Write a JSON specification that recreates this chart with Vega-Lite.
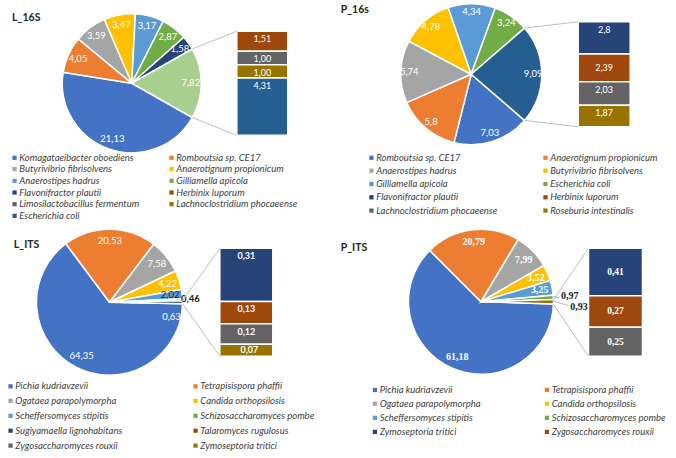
{
"$schema": "https://vega.github.io/schema/vega-lite/v6.json",
"background": "white",
"padding": {"left": 5.5, "top": 0.75, "right": 0, "bottom": 0},
"config": {"view": {"stroke": null}, "font": "Lato"},
"columns": 4,
"align": "each",
"bounds": "flush",
"spacing": {"row": 84.5, "column": 0},
"resolve": {"scale": {"color": "independent"}},
"concat": [
  {"width": 139, "height": 139,
   "title": {"text": "L_16S", "anchor": "start", "orient": "none", "dx": -24.4, "dy": 16.8, "baseline": "alphabetic", "font": "Lato", "fontSize": 10.5, "fontWeight": "bold", "color": "#262626"},
   "data": {"values": [
    {"sp": "Komagataeibacter oboediens", "v": 21.13, "t": "21,13", "k": 1},
    {"sp": "Romboutsia sp. CE17", "v": 4.05, "t": "4,05", "k": 2},
    {"sp": "Butyrivibrio fibrisolvens", "v": 3.59, "t": "3,59", "k": 3},
    {"sp": "Anaerotignum propionicum", "v": 3.47, "t": "3,47", "k": 4},
    {"sp": "Anaerostipes hadrus", "v": 3.17, "t": "3,17", "k": 5},
    {"sp": "Gilliamella apicola", "v": 2.87, "t": "2,87", "k": 6},
    {"sp": "Flavonifractor plautii", "v": 1.58, "t": "1,58", "k": 7},
    {"sp": "Other", "v": 7.82, "t": "7,82", "k": 8}
   ]},
   "encoding": {
    "theta": {"field": "v", "type": "quantitative", "stack": true, "scale": {"range": [2.08605, 8.36924]}},
    "order": {"field": "k", "type": "quantitative"},
    "color": {"field": "sp", "type": "nominal",
     "scale": {"domain": ["Komagataeibacter oboediens", "Romboutsia sp. CE17", "Butyrivibrio fibrisolvens", "Anaerotignum propionicum", "Anaerostipes hadrus", "Gilliamella apicola", "Flavonifractor plautii", "Herbinix luporum", "Limosilactobacillus fermentum", "Lachnoclostridium phocaeense", "Escherichia coli", "Other"],
      "range": ["#4472C4", "#ED7D31", "#A5A5A5", "#FFC000", "#5B9BD5", "#70AD47", "#264478", "#9E480E", "#636363", "#997300", "#255E91", "#A9CF8F"]},
     "legend": {"values": ["Komagataeibacter oboediens", "Butyrivibrio fibrisolvens", "Anaerostipes hadrus", "Flavonifractor plautii", "Limosilactobacillus fermentum", "Escherichia coli", "Romboutsia sp. CE17", "Anaerotignum propionicum", "Gilliamella apicola", "Herbinix luporum", "Lachnoclostridium phocaeense"],
      "orient": "none", "legendX": -26.7, "legendY": 148.9, "columns": 2, "columnPadding": 27, "rowPadding": 0.7, "symbolType": "square", "symbolSize": 18, "symbolStrokeWidth": 0, "labelFont": "Lato", "labelFontStyle": "italic", "labelFontSize": 9.5, "labelColor": "#404040", "labelOffset": 0, "title": null, "padding": 0, "labelLimit": 300}}
   },
   "layer": [
    {"mark": {"type": "arc", "radius": 69.5, "stroke": "white", "strokeWidth": 1.5, "xOffset": 25.8, "yOffset": 10}},
    {"mark": {"type": "text", "radius": 59, "font": "Lato", "fontSize": 9.5, "xOffset": 25.8, "yOffset": 10}, "encoding": {"text": {"field": "t"}, "color": {"value": "white"}, "detail": {"field": "sp"}}}
   ]
  },
  {"width": 225.6, "height": 141,
   "layer": [
    {"data": {"values": [
      {"sp": "Herbinix luporum", "v": 1.51, "t": "1,51", "k": 8},
      {"sp": "Limosilactobacillus fermentum", "v": 1.00, "t": "1,00", "k": 9},
      {"sp": "Lachnoclostridium phocaeense", "v": 1.00, "t": "1,00", "k": 10},
      {"sp": "Escherichia coli", "v": 4.31, "t": "4,31", "k": 11}
     ]},
     "transform": [{"stack": "v", "groupby": [], "sort": [{"field": "k", "order": "descending"}], "as": ["v0", "v1"]}],
     "layer": [
      {"mark": {"type": "rect", "stroke": "white", "strokeWidth": 1.5},
       "encoding": {
        "x": {"datum": 0, "type": "quantitative", "axis": null, "scale": {"domain": [-1.0647, 3.3588], "nice": false, "zero": false}},
        "x2": {"datum": 1},
        "y": {"field": "v0", "type": "quantitative", "axis": null, "scale": {"domain": [-0.7143, 9.8878], "nice": false, "zero": false}},
        "y2": {"field": "v1"},
        "color": {"field": "sp", "type": "nominal", "legend": null,
         "scale": {"domain": ["Herbinix luporum", "Limosilactobacillus fermentum", "Lachnoclostridium phocaeense", "Escherichia coli"], "range": ["#9E480E", "#636363", "#997300", "#255E91"]}}}},
      {"mark": {"type": "text", "baseline": "middle", "dy": 8, "font": "Lato", "fontSize": 9, "color": "white"},
       "encoding": {"x": {"datum": 0.5, "type": "quantitative", "axis": null}, "y": {"field": "v1", "type": "quantitative", "axis": null}, "text": {"field": "t"}}}
     ]
    },
    {"data": {"values": [{}]}, "mark": {"type": "rule", "color": "#BFBFBF", "strokeWidth": 1},
     "encoding": {"x": {"datum": -0.873, "type": "quantitative", "axis": null}, "x2": {"datum": 0}, "y": {"datum": 6.488, "type": "quantitative", "axis": null}, "y2": {"datum": 7.82}}},
    {"data": {"values": [{}]}, "mark": {"type": "rule", "color": "#BFBFBF", "strokeWidth": 1},
     "encoding": {"x": {"datum": -0.873, "type": "quantitative", "axis": null}, "x2": {"datum": 0}, "y": {"datum": 1.334, "type": "quantitative", "axis": null}, "y2": {"datum": 0}}}
   ]
  },
  {"width": 141, "height": 141,
   "title": {"text": "P_16s", "anchor": "start", "orient": "none", "dx": -67.8, "dy": 9.2, "baseline": "alphabetic", "font": "Lato", "fontSize": 10.5, "fontWeight": "bold", "color": "#262626"},
   "data": {"values": [
    {"sp": "Romboutsia sp. CE17", "v": 7.03, "t": "7,03", "k": 1},
    {"sp": "Anaerotignum propionicum", "v": 5.8, "t": "5,8", "k": 2},
    {"sp": "Anaerostipes hadrus", "v": 5.74, "t": "5,74", "k": 3},
    {"sp": "Butyrivibrio fibrisolvens", "v": 4.78, "t": "4,78", "k": 4},
    {"sp": "Gilliamella apicola", "v": 4.34, "t": "4,34", "k": 5},
    {"sp": "Escherichia coli", "v": 3.24, "t": "3,24", "k": 6},
    {"sp": "Other", "v": 9.09, "t": "9,09", "k": 7}
   ]},
   "encoding": {
    "theta": {"field": "v", "type": "quantitative", "stack": true, "scale": {"range": [2.28436, 8.56755]}},
    "order": {"field": "k", "type": "quantitative"},
    "color": {"field": "sp", "type": "nominal",
     "scale": {"domain": ["Romboutsia sp. CE17", "Anaerotignum propionicum", "Anaerostipes hadrus", "Butyrivibrio fibrisolvens", "Gilliamella apicola", "Escherichia coli", "Flavonifractor plautii", "Herbinix luporum", "Lachnoclostridium phocaeense", "Roseburia intestinalis", "Other"],
      "range": ["#4472C4", "#ED7D31", "#A5A5A5", "#FFC000", "#5B9BD5", "#70AD47", "#264478", "#9E480E", "#636363", "#997300", "#255E91"]},
     "legend": {"values": ["Romboutsia sp. CE17", "Anaerostipes hadrus", "Gilliamella apicola", "Flavonifractor plautii", "Lachnoclostridium phocaeense", "Anaerotignum propionicum", "Butyrivibrio fibrisolvens", "Escherichia coli", "Herbinix luporum", "Roseburia intestinalis"],
      "orient": "none", "legendX": -41.8, "legendY": 148.9, "columns": 2, "columnPadding": 43, "rowPadding": 2.3, "symbolType": "square", "symbolSize": 18, "symbolStrokeWidth": 0, "labelFont": "Lato", "labelFontStyle": "italic", "labelFontSize": 9.5, "labelColor": "#404040", "labelOffset": 0, "title": null, "padding": 0, "labelLimit": 300}}
   },
   "layer": [
    {"mark": {"type": "arc", "radius": 70.5, "stroke": "white", "strokeWidth": 1.5, "xOffset": -7.8}},
    {"mark": {"type": "text", "radius": 62, "font": "Lato", "fontSize": 9.5, "xOffset": -7.8}, "encoding": {"text": {"field": "t"}, "color": {"value": "white"}, "detail": {"field": "sp"}}}
   ]
  },
  {"width": 89, "height": 141,
   "layer": [
    {"data": {"values": [
      {"sp": "Flavonifractor plautii", "v": 2.8, "t": "2,8", "k": 7},
      {"sp": "Herbinix luporum", "v": 2.39, "t": "2,39", "k": 8},
      {"sp": "Lachnoclostridium phocaeense", "v": 2.03, "t": "2,03", "k": 9},
      {"sp": "Roseburia intestinalis", "v": 1.87, "t": "1,87", "k": 10}
     ]},
     "transform": [{"stack": "v", "groupby": [], "sort": [{"field": "k", "order": "descending"}], "as": ["v0", "v1"]}],
     "layer": [
      {"mark": {"type": "rect", "stroke": "white", "strokeWidth": 1.5},
       "encoding": {
        "x": {"datum": 0, "type": "quantitative", "axis": null, "scale": {"domain": [-0.475, 1.2365], "nice": false, "zero": false}},
        "x2": {"datum": 1},
        "y": {"field": "v0", "type": "quantitative", "axis": null, "scale": {"domain": [-1.5583, 10.6483], "nice": false, "zero": false}},
        "y2": {"field": "v1"},
        "color": {"field": "sp", "type": "nominal", "legend": null,
         "scale": {"domain": ["Flavonifractor plautii", "Herbinix luporum", "Lachnoclostridium phocaeense", "Roseburia intestinalis"], "range": ["#264478", "#9E480E", "#636363", "#997300"]}}}},
      {"mark": {"type": "text", "baseline": "middle", "dy": 8, "font": "Lato", "fontSize": 9, "color": "white"},
       "encoding": {"x": {"datum": 0.5, "type": "quantitative", "axis": null}, "y": {"field": "v1", "type": "quantitative", "axis": null}, "text": {"condition": {"test": "datum.k != 8", "field": "t"}, "value": ""}}},
      {"mark": {"type": "text", "baseline": "middle", "dy": 14, "font": "Lato", "fontSize": 9, "color": "white"},
       "encoding": {"x": {"datum": 0.5, "type": "quantitative", "axis": null}, "y": {"field": "v1", "type": "quantitative", "axis": null}, "text": {"condition": {"test": "datum.k == 8", "field": "t"}, "value": ""}}}
     ]
    },
    {"data": {"values": [{}]}, "mark": {"type": "rule", "color": "#BFBFBF", "strokeWidth": 1},
     "encoding": {"x": {"datum": -1.033, "type": "quantitative", "axis": null}, "x2": {"datum": 0}, "y": {"datum": 8.54, "type": "quantitative", "axis": null}, "y2": {"datum": 9.09}}},
    {"data": {"values": [{}]}, "mark": {"type": "rule", "color": "#BFBFBF", "strokeWidth": 1},
     "encoding": {"x": {"datum": -1.033, "type": "quantitative", "axis": null}, "x2": {"datum": 0}, "y": {"datum": 0.55, "type": "quantitative", "axis": null}, "y2": {"datum": 0}}}
   ]
  },
  {"width": 146, "height": 146,
   "title": {"text": "L_ITS", "anchor": "start", "orient": "none", "dx": -22.7, "dy": 18.7, "baseline": "alphabetic", "font": "Lato", "fontSize": 10.5, "fontWeight": "bold", "color": "#262626"},
   "data": {"values": [
    {"sp": "Pichia kudriavzevii", "v": 64.35, "t": "64,35", "k": 1},
    {"sp": "Tetrapisispora phaffii", "v": 20.53, "t": "20,53", "k": 2},
    {"sp": "Ogataea parapolymorpha", "v": 7.58, "t": "7,58", "k": 3},
    {"sp": "Candida orthopsilosis", "v": 4.22, "t": "4,22", "k": 4},
    {"sp": "Scheffersomyces stipitis", "v": 2.02, "t": "2,02", "k": 5},
    {"sp": "Schizosaccharomyces pombe", "v": 0.46, "t": "0,46", "k": 6},
    {"sp": "Other", "v": 0.63, "t": "0,63", "k": 7}
   ]},
   "encoding": {
    "theta": {"field": "v", "type": "quantitative", "stack": true, "scale": {"range": [1.59068, 7.87387]}},
    "order": {"field": "k", "type": "quantitative"},
    "color": {"field": "sp", "type": "nominal",
     "scale": {"domain": ["Pichia kudriavzevii", "Tetrapisispora phaffii", "Ogataea parapolymorpha", "Candida orthopsilosis", "Scheffersomyces stipitis", "Schizosaccharomyces pombe", "Sugiyamaella lignohabitans", "Talaromyces rugulosus", "Zygosaccharomyces rouxii", "Zymoseptoria tritici", "Other"],
      "range": ["#4472C4", "#ED7D31", "#A5A5A5", "#FFC000", "#5B9BD5", "#70AD47", "#264478", "#9E480E", "#636363", "#997300", "#255E91"]},
     "legend": {"values": ["Pichia kudriavzevii", "Ogataea parapolymorpha", "Scheffersomyces stipitis", "Sugiyamaella lignohabitans", "Zygosaccharomyces rouxii", "Tetrapisispora phaffii", "Candida orthopsilosis", "Schizosaccharomyces pombe", "Talaromyces rugulosus", "Zymoseptoria tritici"],
      "orient": "none", "legendX": -30.7, "legendY": 152, "columns": 2, "columnPadding": 68, "rowPadding": 3.9, "symbolType": "square", "symbolSize": 18, "symbolStrokeWidth": 0, "labelFont": "Lato", "labelFontStyle": "italic", "labelFontSize": 9.5, "labelColor": "#404040", "labelOffset": 0, "title": null, "padding": 0, "labelLimit": 300}}
   },
   "layer": [
    {"mark": {"type": "arc", "radius": 73, "stroke": "white", "strokeWidth": 1.5}},
    {"mark": {"type": "text", "radius": 61, "font": "Lato", "fontSize": 9.5},
     "encoding": {"text": {"condition": {"test": "datum.k <= 5", "field": "t"}, "value": ""}, "color": {"condition": {"test": "datum.k == 5", "value": "#1a1a1a"}, "value": "white"}, "detail": {"field": "sp"}}},
    {"mark": {"type": "text", "radius": 81, "font": "Lato", "fontSize": 9.5, "fontWeight": "bold"},
     "encoding": {"text": {"condition": {"test": "datum.k == 6", "field": "t"}, "value": ""}, "color": {"value": "#1a1a1a"}, "detail": {"field": "sp"}}},
    {"mark": {"type": "text", "radius": 62, "dy": 15, "font": "Lato", "fontSize": 9.5},
     "encoding": {"text": {"condition": {"test": "datum.k == 7", "field": "t"}, "value": ""}, "color": {"value": "white"}, "detail": {"field": "sp"}}}
   ]
  },
  {"width": 225.6, "height": 146,
   "layer": [
    {"data": {"values": [
      {"sp": "Sugiyamaella lignohabitans", "v": 0.31, "t": "0,31", "k": 7},
      {"sp": "Talaromyces rugulosus", "v": 0.13, "t": "0,13", "k": 8},
      {"sp": "Zygosaccharomyces rouxii", "v": 0.12, "t": "0,12", "k": 9},
      {"sp": "Zymoseptoria tritici", "v": 0.07, "t": "0,07", "k": 10}
     ]},
     "transform": [{"stack": "v", "groupby": [], "sort": [{"field": "k", "order": "descending"}], "as": ["v0", "v1"]}],
     "layer": [
      {"mark": {"type": "rect", "stroke": "white", "strokeWidth": 1.5},
       "encoding": {
        "x": {"datum": 0, "type": "quantitative", "axis": null, "scale": {"domain": [-0.7038, 3.5528], "nice": false, "zero": false}},
        "x2": {"datum": 1},
        "y": {"field": "v0", "type": "quantitative", "axis": null, "scale": {"domain": [-0.1108, 0.7408], "nice": false, "zero": false}},
        "y2": {"field": "v1"},
        "color": {"field": "sp", "type": "nominal", "legend": null,
         "scale": {"domain": ["Sugiyamaella lignohabitans", "Talaromyces rugulosus", "Zygosaccharomyces rouxii", "Zymoseptoria tritici"], "range": ["#264478", "#9E480E", "#636363", "#997300"]}}}},
      {"mark": {"type": "text", "baseline": "middle", "dy": 8, "font": "Lato", "fontSize": 9, "fontWeight": "bold", "color": "white"},
       "encoding": {"x": {"datum": 0.5, "type": "quantitative", "axis": null}, "y": {"field": "v1", "type": "quantitative", "axis": null}, "text": {"condition": {"test": "datum.k != 10", "field": "t"}, "value": ""}}},
      {"mark": {"type": "text", "baseline": "middle", "dy": 5.5, "dx": 3, "font": "Lato", "fontSize": 9, "fontWeight": "bold", "color": "white"},
       "encoding": {"x": {"datum": 0.5, "type": "quantitative", "axis": null}, "y": {"field": "v1", "type": "quantitative", "axis": null}, "text": {"condition": {"test": "datum.k == 10", "field": "t"}, "value": ""}}}
     ]
    },
    {"data": {"values": [{}]}, "mark": {"type": "rule", "color": "#BFBFBF", "strokeWidth": 1},
     "encoding": {"x": {"datum": -0.704, "type": "quantitative", "axis": null}, "x2": {"datum": 0}, "y": {"datum": 0.3235, "type": "quantitative", "axis": null}, "y2": {"datum": 0.63}}},
    {"data": {"values": [{}]}, "mark": {"type": "rule", "color": "#BFBFBF", "strokeWidth": 1},
     "encoding": {"x": {"datum": -0.704, "type": "quantitative", "axis": null}, "x2": {"datum": 0}, "y": {"datum": 0.3065, "type": "quantitative", "axis": null}, "y2": {"datum": 0}}}
   ]
  },
  {"width": 145, "height": 145,
   "title": {"text": "P_ITS", "anchor": "start", "orient": "none", "dx": -67.8, "dy": 22, "baseline": "alphabetic", "font": "Lato", "fontSize": 10.5, "fontWeight": "bold", "color": "#262626"},
   "data": {"values": [
    {"sp": "Pichia kudriavzevii", "v": 61.18, "t": "61,18", "k": 1},
    {"sp": "Tetrapisispora phaffii", "v": 20.79, "t": "20,79", "k": 2},
    {"sp": "Ogataea parapolymorpha", "v": 7.99, "t": "7,99", "k": 3},
    {"sp": "Candida orthopsilosis", "v": 3.52, "t": "3,52", "k": 4},
    {"sp": "Scheffersomyces stipitis", "v": 3.25, "t": "3,25", "k": 5},
    {"sp": "Schizosaccharomyces pombe", "v": 0.97, "t": "0,97", "k": 6},
    {"sp": "Other", "v": 0.93, "t": "0,93", "k": 7}
   ]},
   "encoding": {
    "theta": {"field": "v", "type": "quantitative", "stack": true, "scale": {"range": [1.60042, 7.88361]}},
    "order": {"field": "k", "type": "quantitative"},
    "color": {"field": "sp", "type": "nominal",
     "scale": {"domain": ["Pichia kudriavzevii", "Tetrapisispora phaffii", "Ogataea parapolymorpha", "Candida orthopsilosis", "Scheffersomyces stipitis", "Schizosaccharomyces pombe", "Zymoseptoria tritici", "Zygosaccharomyces rouxii", "Other"],
      "range": ["#4472C4", "#ED7D31", "#A5A5A5", "#FFC000", "#5B9BD5", "#70AD47", "#264478", "#9E480E", "#997300"]},
     "legend": {"values": ["Pichia kudriavzevii", "Ogataea parapolymorpha", "Scheffersomyces stipitis", "Zymoseptoria tritici", "Tetrapisispora phaffii", "Candida orthopsilosis", "Schizosaccharomyces pombe", "Zygosaccharomyces rouxii"],
      "orient": "none", "legendX": -38.3, "legendY": 155.6, "columns": 2, "columnPadding": 61, "rowPadding": 3.1, "symbolType": "square", "symbolSize": 18, "symbolStrokeWidth": 0, "labelFont": "Lato", "labelFontStyle": "italic", "labelFontSize": 9.5, "labelColor": "#404040", "labelOffset": 0, "title": null, "padding": 0, "labelLimit": 300}}
   },
   "layer": [
    {"mark": {"type": "arc", "radius": 72.5, "stroke": "white", "strokeWidth": 1.5}},
    {"mark": {"type": "text", "radius": 60, "font": "Liberation Serif", "fontSize": 10, "fontWeight": "bold"},
     "encoding": {"text": {"condition": {"test": "datum.k <= 5", "field": "t"}, "value": ""}, "color": {"value": "white"}, "detail": {"field": "sp"}}},
    {"mark": {"type": "text", "radius": 89, "font": "Liberation Serif", "fontSize": 10, "fontWeight": "bold"},
     "encoding": {"text": {"condition": {"test": "datum.k == 6", "field": "t"}, "value": ""}, "color": {"value": "#1a1a1a"}, "detail": {"field": "sp"}}},
    {"mark": {"type": "text", "radius": 98, "dy": 5, "font": "Liberation Serif", "fontSize": 10, "fontWeight": "bold"},
     "encoding": {"text": {"condition": {"test": "datum.k == 7", "field": "t"}, "value": ""}, "color": {"value": "#1a1a1a"}, "detail": {"field": "sp"}}}
   ]
  },
  {"width": 89, "height": 146,
   "layer": [
    {"data": {"values": [
      {"sp": "Zymoseptoria tritici", "v": 0.41, "t": "0,41", "k": 7},
      {"sp": "Zygosaccharomyces rouxii", "v": 0.27, "t": "0,27", "k": 8},
      {"sp": "Unlisted", "v": 0.25, "t": "0,25", "k": 9}
     ]},
     "transform": [{"stack": "v", "groupby": [], "sort": [{"field": "k", "order": "descending"}], "as": ["v0", "v1"]}],
     "layer": [
      {"mark": {"type": "rect", "stroke": "white", "strokeWidth": 1.5},
       "encoding": {
        "x": {"datum": 0, "type": "quantitative", "axis": null, "scale": {"domain": [-0.6481, 1.0], "nice": false, "zero": false}},
        "x2": {"datum": 1},
        "y": {"field": "v0", "type": "quantitative", "axis": null, "scale": {"domain": [-0.1636, 1.0936], "nice": false, "zero": false}},
        "y2": {"field": "v1"},
        "color": {"field": "sp", "type": "nominal", "legend": null,
         "scale": {"domain": ["Zymoseptoria tritici", "Zygosaccharomyces rouxii", "Unlisted"], "range": ["#264478", "#9E480E", "#636363"]}}}},
      {"mark": {"type": "text", "baseline": "middle", "dy": 24, "font": "Liberation Serif", "fontSize": 9.5, "fontWeight": "bold", "color": "white"},
       "encoding": {"x": {"datum": 0.5, "type": "quantitative", "axis": null}, "y": {"field": "v1", "type": "quantitative", "axis": null}, "text": {"condition": {"test": "datum.k == 7", "field": "t"}, "value": ""}}},
      {"mark": {"type": "text", "baseline": "middle", "dy": 15, "font": "Liberation Serif", "fontSize": 9.5, "fontWeight": "bold", "color": "white"},
       "encoding": {"x": {"datum": 0.5, "type": "quantitative", "axis": null}, "y": {"field": "v1", "type": "quantitative", "axis": null}, "text": {"condition": {"test": "datum.k != 7", "field": "t"}, "value": ""}}}
     ]
    },
    {"data": {"values": [{}]}, "mark": {"type": "rule", "color": "#BFBFBF", "strokeWidth": 1},
     "encoding": {"x": {"datum": -0.649, "type": "quantitative", "axis": null}, "x2": {"datum": 0}, "y": {"datum": 0.4835, "type": "quantitative", "axis": null}, "y2": {"datum": 0.93}}},
    {"data": {"values": [{}]}, "mark": {"type": "rule", "color": "#BFBFBF", "strokeWidth": 1},
     "encoding": {"x": {"datum": -0.649, "type": "quantitative", "axis": null}, "x2": {"datum": 0}, "y": {"datum": 0.4465, "type": "quantitative", "axis": null}, "y2": {"datum": 0}}},
    {"data": {"values": [{}]}, "mark": {"type": "rule", "color": "#A6A6A6", "strokeWidth": 0.8},
     "encoding": {"x": {"datum": -0.659, "type": "quantitative", "axis": null}, "x2": {"datum": -0.535}, "y": {"datum": 0.514, "type": "quantitative", "axis": null}, "y2": {"datum": 0.505}}},
    {"data": {"values": [{}]}, "mark": {"type": "rule", "color": "#A6A6A6", "strokeWidth": 0.8},
     "encoding": {"x": {"datum": -0.678, "type": "quantitative", "axis": null}, "x2": {"datum": -0.37}, "y": {"datum": 0.4796, "type": "quantitative", "axis": null}, "y2": {"datum": 0.437}}}
   ]
  }
]
}
